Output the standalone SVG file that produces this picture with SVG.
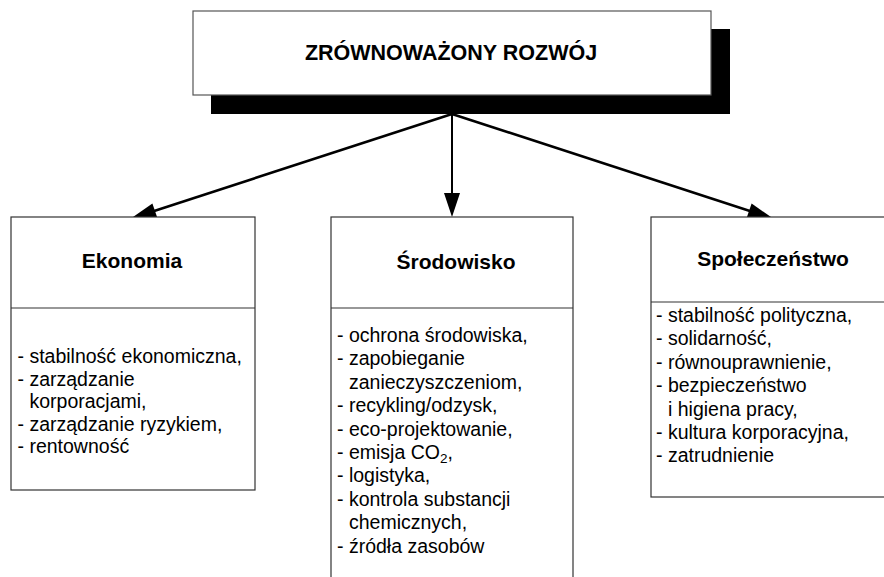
<svg xmlns="http://www.w3.org/2000/svg" width="884" height="577" viewBox="0 0 884 577">
<style>
text{font-family:"Liberation Sans",Arial,sans-serif;fill:#000}
.h{font-weight:bold;font-size:21px;text-anchor:middle}
.b{font-size:19.5px}
.box{fill:#fff;stroke:#333;stroke-width:1.2}
.div{stroke:#333;stroke-width:1.2}
.ln{stroke:#000;fill:none}
</style>
<rect width="884" height="577" fill="#fff"/>
<g id="connectors">
<line class="ln" x1="452" y1="114" x2="148" y2="213" stroke-width="2.6"/>
<polygon points="133,217 157.4,218 152.4,203.6"/>
<line class="ln" x1="452" y1="114" x2="452" y2="196" stroke-width="2"/>
<polygon points="444,193 460,193 452,217"/>
<line class="ln" x1="452" y1="114" x2="756" y2="213" stroke-width="2.6"/>
<polygon points="771,217 746.6,218 751.6,203.6"/>
</g>
<g id="root">
<rect x="211" y="29" width="519" height="85" fill="#000"/>
<rect x="193" y="11" width="518" height="84" fill="#fff" stroke="#555" stroke-width="1.2"/>
<text class="h" x="451" y="60" style="font-size:21.5px">ZRÓWNOWAŻONY ROZWÓJ</text>
</g>
<g id="ekonomia">
<rect class="box" x="11" y="217" width="244" height="273"/>
<line class="div" x1="11" y1="308" x2="255" y2="308"/>
<text class="h" x="132" y="268">Ekonomia</text>
<text class="b" x="17.5" y="363">- stabilność ekonomiczna,</text>
<text class="b" x="17.5" y="385.5">- zarządzanie</text>
<text class="b" x="29.5" y="408">korporacjami,</text>
<text class="b" x="17.5" y="430.5">- zarządzanie ryzykiem,</text>
<text class="b" x="17.5" y="453">- rentowność</text>
</g>
<g id="srodowisko">
<rect class="box" x="331" y="217" width="242" height="400"/>
<line class="div" x1="331" y1="308" x2="573" y2="308"/>
<text class="h" x="456" y="269">Środowisko</text>
<text class="b" x="337" y="342">- ochrona środowiska,</text>
<text class="b" x="337" y="365.4">- zapobieganie</text>
<text class="b" x="349" y="388.8">zanieczyszczeniom,</text>
<text class="b" x="337" y="412.2">- recykling/odzysk,</text>
<text class="b" x="337" y="435.6">- eco-projektowanie,</text>
<text class="b" x="337" y="459">- emisja CO<tspan font-size="13.5" dy="4">2</tspan><tspan dy="-4">,</tspan></text>
<text class="b" x="337" y="482.4">- logistyka,</text>
<text class="b" x="337" y="505.8">- kontrola substancji</text>
<text class="b" x="349" y="529.2">chemicznych,</text>
<text class="b" x="337" y="552.6">- źródła zasobów</text>
</g>
<g id="spoleczenstwo">
<rect class="box" x="651" y="217" width="244" height="280"/>
<line class="div" x1="651" y1="302" x2="895" y2="302"/>
<text class="h" x="773" y="266">Społeczeństwo</text>
<text class="b" x="656" y="322">- stabilność polityczna,</text>
<text class="b" x="656" y="345.4">- solidarność,</text>
<text class="b" x="656" y="368.8">- równouprawnienie,</text>
<text class="b" x="656" y="392.2">- bezpieczeństwo</text>
<text class="b" x="668" y="415.6">i higiena pracy,</text>
<text class="b" x="656" y="439">- kultura korporacyjna,</text>
<text class="b" x="656" y="462.4">- zatrudnienie</text>
</g>
</svg>
